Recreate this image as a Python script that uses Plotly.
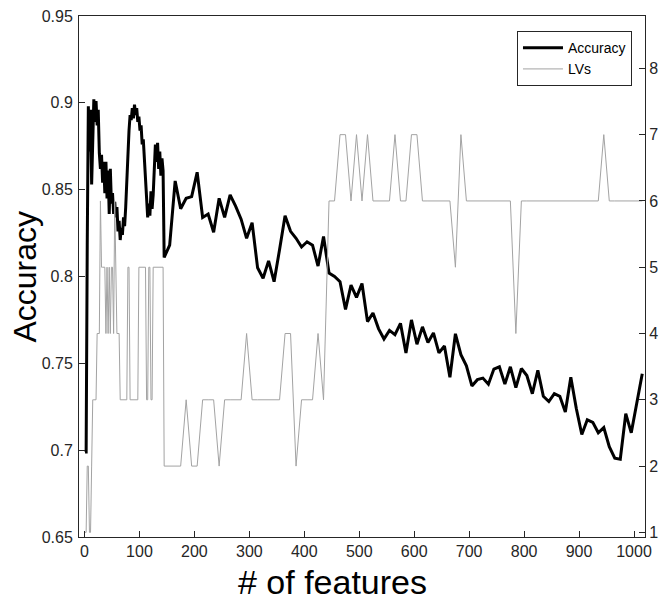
import plotly.graph_objects as go

# ---- data ----
features_dense = list(range(1, 144, 2))
features_sparse = list(range(145, 1000, 10)) + [1015]

accuracy_dense = [
    0.699, 0.699, 0.818, 0.898, 0.872, 0.896, 0.853, 0.872, 0.902, 0.889,
    0.901, 0.887, 0.896, 0.871, 0.862, 0.870, 0.854, 0.866, 0.848, 0.866,
    0.845, 0.861, 0.836, 0.862, 0.842, 0.848, 0.836, 0.843, 0.834, 0.840,
    0.826, 0.832, 0.821, 0.828, 0.824, 0.834, 0.829, 0.840, 0.858, 0.876,
    0.884, 0.893, 0.890, 0.897, 0.891, 0.899, 0.893, 0.897, 0.889, 0.892,
    0.884, 0.887, 0.876, 0.879, 0.866, 0.858, 0.846, 0.834, 0.842, 0.835,
    0.849, 0.839, 0.847, 0.866, 0.876, 0.866, 0.877, 0.862, 0.872, 0.858,
    0.868, 0.861,
]
accuracy_sparse = [
    0.811, 0.818, 0.855, 0.839, 0.845, 0.846, 0.860, 0.834, 0.836, 0.8255,
    0.845, 0.834, 0.847, 0.8405, 0.833, 0.822, 0.831, 0.805, 0.799, 0.809,
    0.797, 0.8155, 0.835, 0.826, 0.822, 0.817, 0.820, 0.818, 0.806, 0.823,
    0.802, 0.800, 0.797, 0.781, 0.795, 0.788, 0.796, 0.774, 0.779, 0.770,
    0.764, 0.769, 0.7665, 0.773, 0.756, 0.775, 0.761, 0.771, 0.762, 0.7675,
    0.756, 0.760, 0.742, 0.767, 0.755, 0.7486, 0.737, 0.7406, 0.7415, 0.738,
    0.7467, 0.748, 0.738, 0.748, 0.736, 0.747, 0.743, 0.7325, 0.746, 0.731,
    0.728, 0.7325, 0.731, 0.722, 0.742, 0.724, 0.709, 0.7175, 0.716, 0.710,
    0.713, 0.702, 0.6954, 0.6948, 0.721, 0.710,
    0.744,
]
lvs_dense = [
    1, 1, 2, 2, 1, 1, 2, 3, 3, 3,
    3, 4, 4, 4, 6, 5, 5, 5, 5, 4,
    5, 4, 5, 4, 5, 5, 4, 6, 5, 4,
    4, 4, 3, 3, 3, 3, 3, 3, 3, 5,
    5, 3, 3, 3, 3, 3, 3, 3, 3, 5,
    5, 5, 5, 5, 5, 5, 3, 3, 5, 5,
    3, 3, 5, 5, 5, 5, 5, 5, 5, 5,
    5, 5,
]
lvs_sparse = [
    2, 2, 2, 2, 3, 2, 2, 3, 3, 3,
    2, 3, 3, 3, 3, 4, 3, 3, 3, 3,
    3, 3, 4, 4, 2, 3, 3, 3, 4, 3,
    6, 6, 7, 7, 6, 7, 6, 7, 6, 6,
    6, 6, 7, 6, 6, 7, 7, 6, 6, 6,
    6, 6, 6, 5, 7, 6, 6, 6, 6, 6,
    6, 6, 6, 6, 4, 6, 6, 6, 6, 6,
    6, 6, 6, 6, 6, 6, 6, 6, 6, 6,
    7, 6, 6, 6, 6, 6,
    6,
]

x_ticks = [0, 100, 200, 300, 400, 500, 600, 700, 800, 900, 1000]
y_ticks = [0.65, 0.7, 0.75, 0.8, 0.85, 0.9, 0.95]
y_ticktext = ["0.65", "0.7", "0.75", "0.8", "0.85", "0.9", "0.95"]
y2_ticks = [1, 2, 3, 4, 5, 6, 7, 8]

features = features_dense + features_sparse
accuracy = accuracy_dense + accuracy_sparse
lvs = lvs_dense + lvs_sparse

FONT = "Liberation Sans, Arial, Helvetica, sans-serif"
AXC = "#262626"

fig = go.Figure()
fig.add_trace(go.Scatter(x=features, y=accuracy, name="Accuracy", mode="lines",
                         line=dict(color="black", width=3)))
fig.add_trace(go.Scatter(x=features, y=lvs, name="LVs", mode="lines", yaxis="y2",
                         line=dict(color="#a3a3a3", width=1)))

axis_common = dict(showgrid=False, zeroline=False, showline=True, linecolor=AXC,
                   linewidth=1, ticks="inside", ticklen=6, tickcolor=AXC,
                   tickfont=dict(family=FONT, size=16, color=AXC))

fig.update_layout(
    width=659, height=600,
    margin=dict(l=79, r=14, t=16, b=63, autoexpand=False),
    paper_bgcolor="white", plot_bgcolor="white",
    font=dict(family=FONT),
    showlegend=True,
    xaxis=dict(range=[-10, 1020], tickvals=x_ticks, mirror=True, **axis_common),
    yaxis=dict(range=[0.65, 0.95], tickvals=y_ticks, ticktext=y_ticktext,
               ticklabelstandoff=2, **axis_common),
    yaxis2=dict(range=[0.93, 8.79], tickvals=y2_ticks, overlaying="y", side="right",
                **axis_common),
    legend=dict(x=0.977, y=0.971, xanchor="right", yanchor="top",
                bgcolor="white", bordercolor=AXC, borderwidth=1,
                font=dict(family=FONT, size=14, color="black"),
                tracegroupgap=0, itemwidth=40),
    annotations=[
        dict(text="Accuracy", xref="paper", yref="paper", x=-0.097, y=0.5,
             xanchor="center", yanchor="middle", textangle=-90, showarrow=False,
             font=dict(family=FONT, size=32, color="black")),
        dict(text="# of features", xref="paper", yref="paper", x=0.447, y=-0.0864,
             xanchor="center", yanchor="middle", showarrow=False,
             font=dict(family=FONT, size=34, color="black")),
    ],
)

# remove the page's default body margin so the 659x600 figure fills the window
fig.write_html("out.html",
               config={"displayModeBar": False},
               post_script="document.body.style.margin='0';"
                           "document.body.style.overflow='hidden';")
